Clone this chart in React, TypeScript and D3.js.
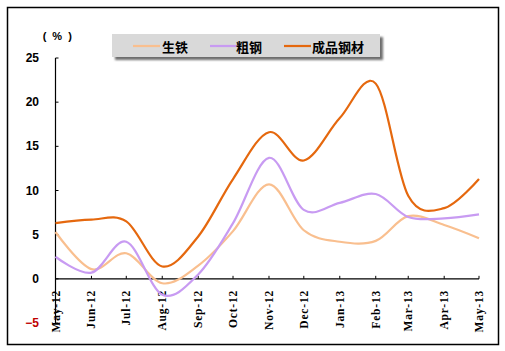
import { useEffect, useRef } from "react"
import * as d3 from "d3"

const months = [
  "2012-05", "2012-06", "2012-07", "2012-08", "2012-09", "2012-10", "2012-11",
  "2012-12", "2013-01", "2013-02", "2013-03", "2013-04", "2013-05",
]
const monthLabels = [
  "May-12", "Jun-12", "Jul-12", "Aug-12", "Sep-12", "Oct-12", "Nov-12",
  "Dec-12", "Jan-13", "Feb-13", "Mar-13", "Apr-13", "May-13",
]
const pigIron = [5.3, 1.1, 2.9, -0.5, 1.5, 5.4, 10.7, 5.5, 4.2, 4.3, 7.1, 6.1, 4.6]
const crudeSteel = [2.5, 0.7, 4.2, -1.8, 0.5, 6.3, 13.7, 7.8, 8.6, 9.6, 7.0, 6.85, 7.3]
const steelProducts = [6.3, 6.7, 6.5, 1.4, 4.8, 11.3, 16.6, 13.4, 18.2, 22.1, 9.4, 8.0, 11.3]
const yTicks = [25, 20, 15, 10, 5, 0, -5]

const seriesNames = ["生铁", "粗钢", "成品钢材"]
const seriesValues = [pigIron, crudeSteel, steelProducts]
const COLORS = ["#F9BF8F", "#C89BF2", "#E5680E"]
const INK = "#000"
const CJK = "'Noto Sans CJK SC', sans-serif"

export default function App() {
  const ref = useRef<SVGSVGElement>(null)

  useEffect(() => {
    if (!ref.current) return
    const svg = d3.select(ref.current)
    svg.selectAll("*").remove()

    const W = 505
    const H = 351
    svg.attr("width", W).attr("height", H)

    const parse = d3.timeParse("%Y-%m")
    const dates = months.map((m) => parse(m) as Date)

    const x = d3.scaleTime().domain([dates[0], dates[dates.length - 1]]).range([55.5, 479])
    const y = d3.scaleLinear().domain([-5, 25]).range([323, 58])

    // outer frame
    svg
      .append("rect")
      .attr("x", 7.5)
      .attr("y", 7.5)
      .attr("width", 491)
      .attr("height", 337)
      .attr("fill", "#fff")
      .attr("stroke", INK)
      .attr("stroke-width", 1.5)

    // y axis
    svg
      .append("line")
      .attr("x1", x.range()[0])
      .attr("x2", x.range()[0])
      .attr("y1", y(25))
      .attr("y2", y(-5))
      .attr("stroke", INK)
      .attr("stroke-width", 1.2)
    svg
      .append("g")
      .selectAll("line")
      .data(yTicks)
      .join("line")
      .attr("x1", x.range()[0])
      .attr("x2", x.range()[0] + 3)
      .attr("y1", (t) => y(t))
      .attr("y2", (t) => y(t))
      .attr("stroke", INK)
    svg
      .append("g")
      .selectAll("text")
      .data(yTicks)
      .join("text")
      .attr("x", 39)
      .attr("y", (t) => y(t))
      .attr("text-anchor", "end")
      .attr("dominant-baseline", "central")
      .attr("font-family", "'Liberation Sans', Arial, sans-serif")
      .attr("font-weight", 700)
      .attr("font-size", 12)
      .attr("fill", (t) => (t < 0 ? "#C00000" : INK))
      .text((t) => (t < 0 ? `−${Math.abs(t)}` : `${t}`))

    svg
      .append("text")
      .attr("x", 58)
      .attr("y", 36)
      .attr("text-anchor", "middle")
      .attr("dominant-baseline", "central")
      .attr("font-family", "'Liberation Sans', Arial, sans-serif")
      .attr("font-weight", 700)
      .attr("font-size", 11)
      .attr("letter-spacing", 1.5)
      .attr("fill", INK)
      .text("( % )")

    // x axis at zero
    svg
      .append("line")
      .attr("x1", x.range()[0])
      .attr("x2", x.range()[1])
      .attr("y1", y(0))
      .attr("y2", y(0))
      .attr("stroke", INK)
      .attr("stroke-width", 1.2)
    svg
      .append("g")
      .selectAll("line")
      .data(dates)
      .join("line")
      .attr("x1", (d) => x(d))
      .attr("x2", (d) => x(d))
      .attr("y1", y(0))
      .attr("y2", y(0) - 3)
      .attr("stroke", INK)
    svg
      .append("g")
      .selectAll("text")
      .data(dates)
      .join("text")
      .attr("transform", (d) => `translate(${x(d)}, 290) rotate(-90)`)
      .attr("text-anchor", "end")
      .attr("dominant-baseline", "central")
      .attr("font-family", "'Liberation Serif', serif")
      .attr("font-weight", 700)
      .attr("font-size", 11.5)
      .attr("letter-spacing", 0.8)
      .attr("fill", INK)
      .text((_, i) => monthLabels[i])

    // lines — Excel style smoothing
    const line = d3
      .line<number>()
      .x((_, i) => x(dates[i]))
      .y((v) => y(v))
      .curve(d3.curveCardinal.tension(0))

    seriesValues.forEach((vals, k) => {
      svg
        .append("path")
        .attr("d", line(vals) ?? "")
        .attr("fill", "none")
        .attr("stroke", COLORS[k])
        .attr("stroke-width", 2.2)
        .attr("stroke-linejoin", "round")
    })

    // legend
    const defs = svg.append("defs")
    defs
      .append("filter")
      .attr("id", "legShadow")
      .attr("x", "-10%")
      .attr("y", "-30%")
      .attr("width", "120%")
      .attr("height", "160%")
      .append("feGaussianBlur")
      .attr("stdDeviation", 1.2)

    const lg = svg.append("g").attr("transform", "translate(112, 34)")
    lg.append("rect")
      .attr("x", 3)
      .attr("y", 3)
      .attr("width", 268)
      .attr("height", 23)
      .attr("fill", "#6e6e6e")
      .attr("filter", "url(#legShadow)")
    lg.append("rect").attr("width", 268).attr("height", 23).attr("fill", "#D9D9D9")

    const legendX = [
      { line: 21, text: 50 },
      { line: 98, text: 124 },
      { line: 172, text: 200 },
    ]
    seriesNames.forEach((name, k) => {
      lg.append("line")
        .attr("x1", legendX[k].line)
        .attr("x2", legendX[k].line + 27)
        .attr("y1", 12)
        .attr("y2", 12)
        .attr("stroke", COLORS[k])
        .attr("stroke-width", 2.2)
      lg.append("text")
        .attr("x", legendX[k].text)
        .attr("y", 12)
        .attr("dominant-baseline", "central")
        .attr("font-family", CJK)
        .attr("font-weight", 700)
        .attr("font-size", 13)
        .attr("fill", INK)
        .text(name)
    })
  }, [])

  return (
    <svg ref={ref} style={{ position: "absolute", left: 0, top: 0, display: "block" }} />
  )
}
